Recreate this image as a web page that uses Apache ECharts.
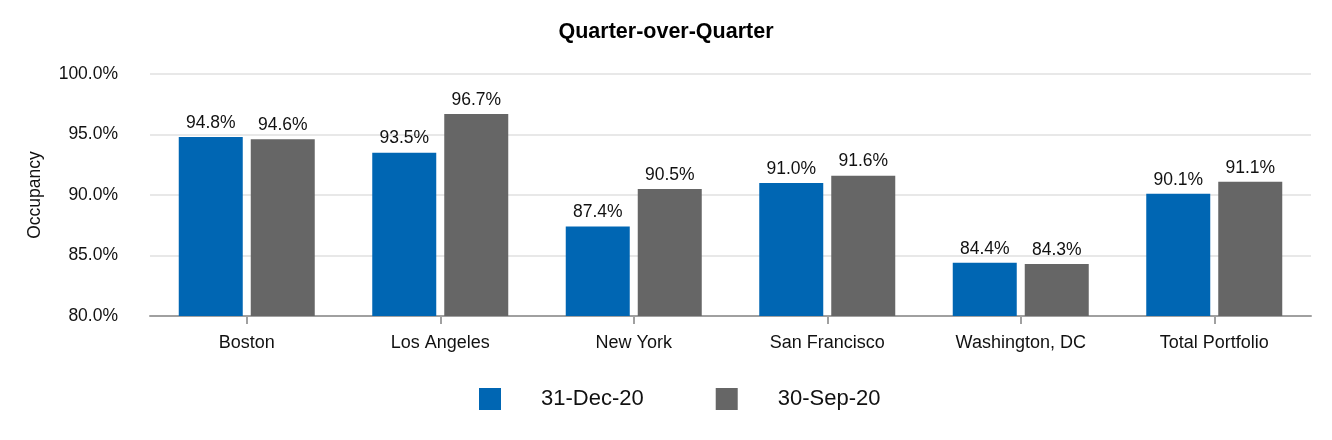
<!DOCTYPE html>
<html><head><meta charset="utf-8">
<script src="https://cdn.jsdelivr.net/npm/echarts@6/dist/echarts.min.js"></script>
<style>html,body{margin:0;padding:0;background:#fff}#c{width:1332px;height:440px}</style>
</head><body><div id="c"></div>
<script>
const categories = ['Boston','Los Angeles','New York','San Francisco','Washington, DC','Total Portfolio'];
const dec20 = [94.8, 93.5, 87.4, 91.0, 84.4, 90.1];
const sep20 = [94.6, 96.7, 90.5, 91.6, 84.3, 91.1];
const seriesNames = ['31-Dec-20','30-Sep-20'];
const yTicks = {min: 80, max: 100, interval: 5};

const font = 'Liberation Sans, Arial, sans-serif';
const fs = 17.5;
const chart = echarts.init(document.getElementById('c'));
const lbl = {show: true, position: 'top', distance: 5, fontSize: fs, color: '#111', fontFamily: font,
  formatter: p => p.value.toFixed(1) + '%'};
chart.setOption({
  animation: false,
  textStyle: {fontFamily: font},
  title: {text: 'Quarter-over-Quarter', left: 'center', top: 16,
    textStyle: {fontSize: 21.5, fontWeight: 'bold', color: '#000', fontFamily: font}},
  legend: {left: 479, top: 388, padding: 0, itemWidth: 22, itemHeight: 22, itemGap: 72, icon: 'rect',
    textStyle: {fontSize: 22, color: '#111', fontFamily: font, padding: [0,0,0,35]},
    data: seriesNames},
  grid: {left: 150, right: 21, top: 74, bottom: 124},
  xAxis: {type: 'category', data: categories,
    axisLine: {lineStyle: {color: '#a0a0a0', width: 2}},
    axisTick: {show: true, alignWithLabel: true, length: 8, lineStyle: {color: '#a0a0a0', width: 2}},
    axisLabel: {fontSize: 18, color: '#111', margin: 18, fontFamily: font}},
  yAxis: {type: 'value', min: yTicks.min, max: yTicks.max, interval: yTicks.interval,
    name: 'Occupancy', nameLocation: 'middle', nameGap: 106, nameRotate: 90,
    nameTextStyle: {fontSize: fs, color: '#111', fontFamily: font},
    axisLine: {show: false}, axisTick: {show: false},
    splitLine: {lineStyle: {color: '#e8e8e8', width: 2}},
    axisLabel: {fontSize: fs, color: '#111', margin: 32, fontFamily: font,
      formatter: v => v.toFixed(1) + '%'}},
  series: [
    {name: seriesNames[0], type: 'bar', data: dec20, barWidth: 64, barGap: '12.5%',
      itemStyle: {color: '#0066b3'}, label: lbl},
    {name: seriesNames[1], type: 'bar', data: sep20, barWidth: 64,
      itemStyle: {color: '#666666'}, label: lbl}
  ]
});
</script></body></html>
